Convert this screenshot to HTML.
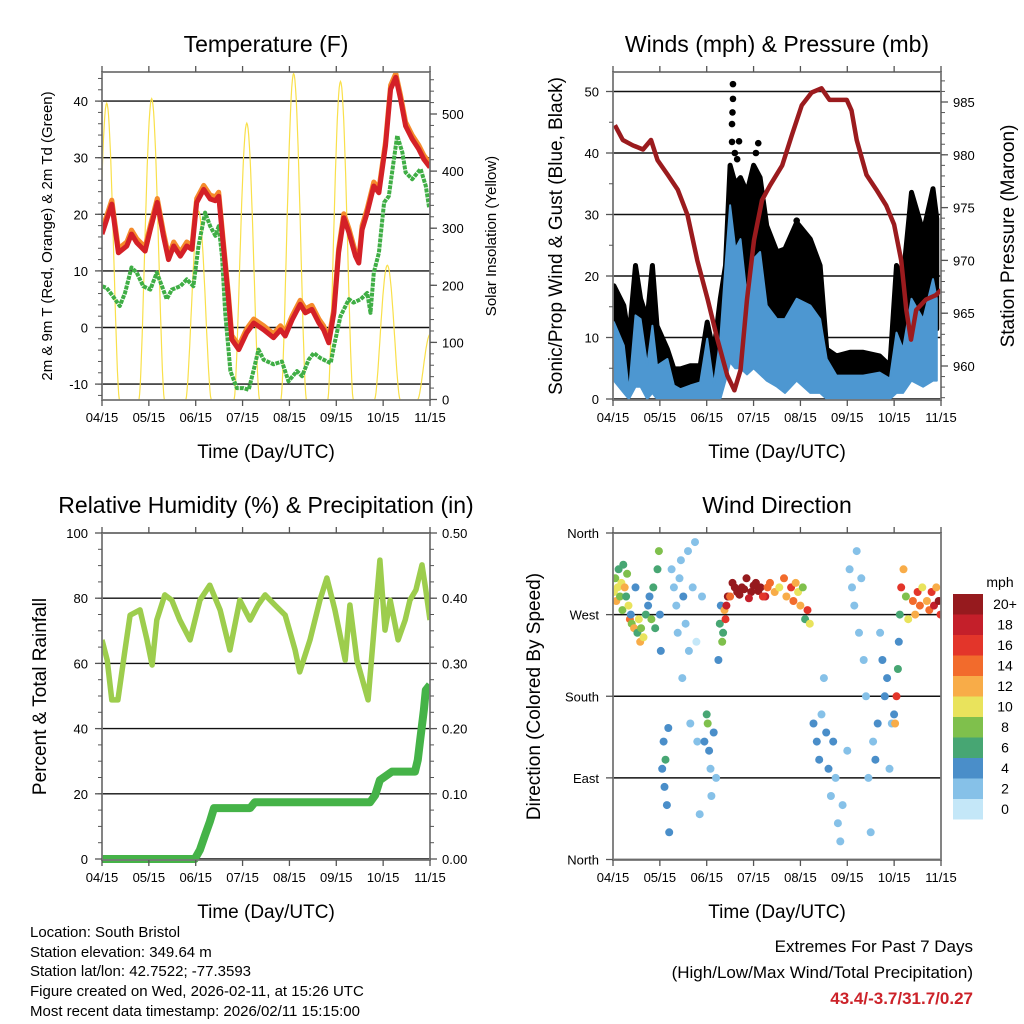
<!DOCTYPE html>
<html><head><meta charset="utf-8">
<style>
html,body{margin:0;padding:0;background:#fff;}
svg{display:block;font-family:"Liberation Sans",Arial,sans-serif;}
</style></head>
<body>
<svg id="chart" width="1024" height="1024" viewBox="0 0 1024 1024" xmlns="http://www.w3.org/2000/svg">
<rect x="0" y="0" width="1024" height="1024" fill="#fff"/>
<g id="p1"></g>
<g id="p2"></g>
<g id="p3"></g>
<g id="p4"></g>
<g id="cbar"></g>
<g font-size="15" fill="#000">
<text x="30" y="937">Location: South Bristol</text>
<text x="30" y="957">Station elevation: 349.64 m</text>
<text x="30" y="976">Station lat/lon: 42.7522; -77.3593</text>
<text x="30" y="996">Figure created on Wed, 2026-02-11, at 15:26 UTC</text>
<text x="30" y="1016">Most recent data timestamp: 2026/02/11 15:15:00</text>
</g>
<g text-anchor="end">
<text x="973" y="952" font-size="17">Extremes For Past 7 Days</text>
<text x="973" y="978" font-size="17">(High/Low/Max Wind/Total Precipitation)</text>
<text x="973" y="1004" font-size="17" font-weight="bold" fill="#cc2229">43.4/-3.7/31.7/0.27</text>
</g>
</svg>
<script>
const NS="http://www.w3.org/2000/svg";
const xLabels=["04/15","05/15","06/15","07/15","08/15","09/15","10/15","11/15"];
// Temperature (red/orange)
const tempT=[0,0.21,0.35,0.53,0.63,0.74,0.92,1.03,1.18,1.31,1.42,1.53,1.67,1.81,1.92,2.02,2.17,2.31,2.42,2.49,2.59,2.70,2.77,2.92,3.09,3.24,3.45,3.66,3.81,3.91,4.06,4.23,4.34,4.48,4.63,4.73,4.84,4.95,5.05,5.16,5.27,5.41,5.48,5.55,5.66,5.80,5.91,6.05,6.16,6.27,6.37,6.48,6.62,6.76,6.87,7.0];
const tempV=[16.5,21.8,13.2,14.4,16.5,15.0,13.5,17.3,22.1,16.2,12.0,14.4,12.6,14.4,13.8,22.1,24.4,22.7,22.4,23.2,14.4,5.0,-2.1,-3.9,-0.9,0.8,-0.4,-1.8,-0.4,-1.5,1.4,4.1,2.6,3.2,0.8,-0.4,-2.7,2.6,13.2,19.4,16.8,12.6,11.4,17.3,20.3,25.0,23.8,32.1,42.1,44.2,40.4,35.6,33.3,31.5,29.7,28.3];
// Dewpoint (green)
const dewT=[0,0.10,0.21,0.38,0.49,0.63,0.74,0.88,1.03,1.17,1.28,1.38,1.49,1.67,1.81,1.95,2.06,2.20,2.31,2.42,2.49,2.56,2.63,2.74,2.88,3.02,3.13,3.24,3.34,3.45,3.66,3.84,3.98,4.16,4.27,4.41,4.52,4.66,4.88,4.95,5.09,5.27,5.37,5.52,5.66,5.73,5.80,5.91,6.02,6.12,6.23,6.30,6.41,6.48,6.62,6.80,6.91,6.98];
const dewV=[7.3,7.0,5.8,3.8,6.1,10.6,9.7,7.3,6.7,9.7,7.3,5.0,6.7,7.3,8.5,7.3,14.4,20.3,17.9,16.2,17.9,12.6,2.6,-7.7,-10.7,-10.7,-11.0,-7.4,-3.9,-5.7,-6.5,-6.0,-9.5,-7.7,-8.6,-5.7,-4.5,-5.4,-6.3,-3.3,2.0,5.0,4.4,5.0,6.1,2.6,9.7,13.2,22.1,23.2,29.7,33.9,30.9,27.4,26.2,28.0,25.0,21.2];
// Solar insolation daily peaks
const solarCenter=[0.10,1.06,2.06,3.09,4.09,5.09,6.09,7.01];
const solarPeak=[519,527,330,484,571,557,235,115];
// Winds
const windT=[0.02,0.23,0.34,0.48,0.59,0.73,0.84,0.94,1.16,1.30,1.44,1.65,1.86,2.01,2.15,2.29,2.40,2.50,2.61,2.72,2.86,3.0,3.14,3.28,3.50,3.67,3.92,4.21,4.42,4.56,4.77,5.06,5.34,5.69,5.91,6.05,6.19,6.37,6.62,6.83,6.91];
const windHi=[12.5,8.7,1.1,13.6,13.0,5.4,11.9,5.4,6.5,2.2,1.6,2.2,2.7,9.8,2.2,9.8,21.7,31.5,24.4,26.0,16.3,22.8,23.9,15.2,13.0,13.0,16.3,15.2,13.0,6.5,3.8,3.8,3.8,4.3,3.3,10.8,8.1,16.3,13.0,19.5,16.3];
const windLo=[3,1,0,2,2,0,1,0,0,0,0,0,0,0,0,0,3,6,5,5,4,5,4,3,2,1,3,1,1,0,0,0,0,0,0,1,1,3,2,3,3];
const gustV=[18.4,15.2,9.8,21.7,16.3,13,21.7,11.9,8.1,4.9,4.9,5.4,5.4,12.5,7.6,16.3,21.7,38,35,36,33.6,38,36,28.2,23.9,24.4,28.7,26,21.7,8.1,7,7.6,7.6,7,5.4,21.7,19.5,33.6,27.1,34.2,29.3];
const gustOutT=[2.56,2.56,2.55,2.54,2.54,2.69,3.10,3.92,2.60,2.65,3.05];
const gustOutV=[51.2,48.8,46.6,44.7,41.8,41.9,41.6,29,40,39,40];
// Pressure
const presT=[0.04,0.21,0.42,0.64,0.81,0.95,1.17,1.38,1.59,1.80,2.02,2.23,2.44,2.59,2.72,2.86,3.01,3.18,3.35,3.61,3.82,4.03,4.24,4.45,4.62,4.77,4.99,5.09,5.20,5.41,5.62,5.83,6.00,6.15,6.26,6.36,6.47,6.68,6.89,7.0];
const presV=[982.8,981.4,980.9,980.5,981.4,979.5,978.1,976.7,974.3,970.0,966.3,962.5,959.1,957.7,959.6,966.3,971.9,975.7,977.1,979.0,981.9,984.7,985.9,986.3,985.2,985.2,985.2,984.2,981.4,978.1,976.7,975.2,973.4,970.0,965.3,962.5,965.3,966.3,966.7,967.2];
// RH
const rhT=[0,0.11,0.21,0.34,0.49,0.60,0.81,0.96,1.07,1.17,1.34,1.49,1.66,1.88,2.09,2.30,2.52,2.73,2.94,3.16,3.33,3.48,3.69,3.91,4.12,4.22,4.44,4.65,4.80,4.97,5.19,5.29,5.44,5.68,5.83,5.93,6.04,6.15,6.32,6.47,6.57,6.70,6.83,6.91,7.0];
const rhV=[67.2,61.0,48.8,48.8,64.1,74.8,76.4,67.2,59.5,73.3,81.0,79.4,73.3,67.2,79.4,84.0,76.4,64.1,79.4,73.3,77.9,81.0,77.9,74.8,64.1,57.4,67.2,79.4,86.2,76.4,61.0,77.9,61.0,48.8,74.8,91.7,70.2,79.4,67.2,73.3,79.4,82.5,90.2,82.5,73.3];
// Precip
const prT=[0,1.98,2.09,2.20,2.30,2.39,3.16,3.26,5.72,5.83,5.93,6.19,6.68,6.74,6.79,6.87,6.91,7.0];
const prV=[0,0,0.014,0.037,0.057,0.078,0.078,0.087,0.087,0.098,0.121,0.134,0.134,0.152,0.183,0.229,0.259,0.267];
// Wind direction
const wdT=[0.02,0.05,0.07,0.1,0.12,0.15,0.18,0.2,0.22,0.25,0.28,0.3,0.33,0.36,0.38,0.4,0.45,0.48,0.52,0.55,0.58,0.6,0.65,0.7,0.75,0.78,0.82,0.86,0.9,0.95,0.98,1.0,1.02,1.05,1.08,1.1,1.12,1.15,1.18,1.2,1.25,1.3,1.35,1.38,1.42,1.45,1.48,1.5,1.55,1.6,1.62,1.65,1.7,1.75,1.78,1.8,1.85,1.9,1.95,2.0,2.02,2.05,2.08,2.1,2.15,2.2,2.25,2.28,2.3,2.33,2.35,2.38,2.4,2.42,2.45,2.55,2.65,2.75,2.85,2.95,3.05,3.15,3.25,3.35,3.45,3.55,3.65,3.7,3.8,3.85,3.9,3.95,4.0,4.05,4.1,4.15,4.2,4.28,4.35,4.4,4.45,4.5,4.55,4.6,4.65,4.7,4.75,4.8,4.85,4.9,5.0,5.05,5.1,5.15,5.2,5.25,5.3,5.35,5.4,5.45,5.5,5.55,5.6,5.65,5.7,5.75,5.8,5.85,5.9,5.95,6.0,6.02,6.05,6.08,6.1,6.12,6.15,6.2,6.25,6.3,6.4,6.45,6.5,6.55,6.6,6.7,6.75,6.8,6.85,6.9,6.95,6.99,2.5,2.6,2.7,2.8,2.9,3.0,3.1,3.2,3.3];
const wdDir=[295,310,285,300,320,290,305,275,325,300,290,315,280,265,270,260,255,300,250,265,240,255,245,270,280,290,265,300,255,320,340,270,230,100,130,80,110,60,145,30,320,300,280,250,310,330,200,290,260,340,230,150,300,350,240,130,50,290,130,160,150,120,100,70,140,90,220,260,280,240,250,275,265,280,290,305,295,300,310,295,305,300,290,305,295,300,310,290,300,285,305,295,280,300,265,275,260,150,130,110,160,200,140,100,70,130,90,40,20,60,120,320,300,280,340,250,310,220,180,90,30,130,110,150,250,220,180,200,100,150,160,150,180,210,240,270,300,320,290,265,285,270,295,280,300,285,275,295,280,300,285,270,290,300,292,298,288,302,296,290,300];
const wdSpd=[10,8,12,10,6,8,10,8,6,12,6,8,10,14,4,8,12,4,6,10,12,8,10,6,4,4,8,6,6,6,8,4,4,4,4,4,6,4,4,4,2,2,2,2,2,2,2,4,2,2,2,2,2,2,0,2,2,2,4,6,8,4,2,2,4,2,4,6,4,8,6,12,16,18,20,20,20,20,20,20,20,20,18,14,12,10,14,12,16,14,12,10,12,8,6,16,10,4,4,4,2,2,4,4,2,4,2,2,2,2,2,2,2,2,2,2,2,2,2,2,2,2,4,4,2,4,4,4,2,2,4,12,16,6,4,6,16,12,8,10,14,12,16,14,10,12,14,16,18,12,20,16,14,20,20,20,18,20,20,16,14,12];
const cbLabels=["20+","18","16","14","12","10","8","6","4","2","0"];
const cbColors=["#961a1e","#c41f2a","#e3352a","#f26b2c","#f8ac48","#e9e35c","#7fc04c","#47a673","#4a8ec9","#86c1e8","#c4e7f8"];

function el(tag,attrs,parent){const e=document.createElementNS(NS,tag);for(const k in attrs)e.setAttribute(k,attrs[k]);parent.appendChild(e);return e;}
function txt(parent,x,y,s,size,anchor,extra){const t=el('text',Object.assign({x:x,y:y,'font-size':size,'text-anchor':anchor||'start',fill:'#000'},extra||{}),parent);t.textContent=s;return t;}

function makePanel(g,P){
  P.leftTicks.forEach(v=>{const y=P.yL(v);
    const l=el('line',{x1:P.x0,x2:P.x1,y1:y,y2:y,stroke:'#111','stroke-width':1.4},g);
    
    
  });
}
function frame(g,P){
  el('rect',{x:P.x0,y:P.y0,width:P.x1-P.x0,height:P.y1-P.y0,fill:'none',stroke:'#777','stroke-width':1.8},g);
  const ax=el('g',{},g);
  
  
  for(let i=0;i<8;i++){const x=P.xs(i);
    el('line',{x1:x,x2:x,y1:P.y1,y2:P.y1+6,stroke:'#555','stroke-width':1.3},ax);
    el('line',{x1:x,x2:x,y1:P.y0,y2:P.y0-6,stroke:'#555','stroke-width':1.3},ax);
    const t=txt(ax,x,P.y1+22,xLabels[i],13,'middle');
    
    
  }
  const xt=txt(g,(P.x0+P.x1)/2,P.y1+58,'Time (Day/UTC)',19,'middle');
  
  
  const ay=el('g',{},g);
  
  
  P.leftTicks.forEach((v,i)=>{const y=P.yL(v);
    el('line',{x1:P.x0-7,x2:P.x0,y1:y,y2:y,stroke:'#555','stroke-width':1.3},ay);
    const t=txt(ay,P.x0-14,y+5,P.leftLabels?P.leftLabels[i]:String(v),13,'end');
    
    
  });
  if(P.leftMinor)P.leftMinor.forEach(v=>{const y=P.yL(v);if(y>=P.y0&&y<=P.y1)el('line',{x1:P.x0-4,x2:P.x0,y1:y,y2:y,stroke:'#555','stroke-width':1},ay);});
  if(P.rightTicks){
    const ar=el('g',{},g);
    
    
    P.rightTicks.forEach((v,i)=>{const y=P.yR(v);
      el('line',{x1:P.x1,x2:P.x1+7,y1:y,y2:y,stroke:'#555','stroke-width':1.3},ar);
      const t=txt(ar,P.x1+12,y+5,P.rightLabels[i],13,'start');
      
      
    });
    if(P.rightMinor)P.rightMinor.forEach(v=>{const y=P.yR(v);if(y>=P.y0&&y<=P.y1)el('line',{x1:P.x1,x2:P.x1+4,y1:y,y2:y,stroke:'#555','stroke-width':1},ar);});
  }
  const tt=txt(g,(P.x0+P.x1)/2,P.y0-20,P.title,23,'middle');
  
  
  const ly=(P.y0+P.y1)/2;
  const lt=txt(g,0,0,P.leftTitle,P.ltSize,'middle',{transform:`translate(${P.ltX},${ly}) rotate(-90)`});
  
  
  if(P.rightTitle){const rt=txt(g,0,0,P.rightTitle,P.rtSize,'middle',{transform:`translate(${P.rtX},${ly}) rotate(-90)`});
    
    }
}
function linePath(ts,vs,xs,ys){return ts.map((t,i)=>(i?'L':'M')+xs(t).toFixed(1)+','+ys(vs[i]).toFixed(1)).join('');}
function range(a,b,s){const r=[];for(let v=a;v<=b+1e-9;v+=s)r.push(+v.toFixed(4));return r;}

// ---------- Panel 1 ----------
(function(){
  const g=document.getElementById('p1');
  const P={x0:102,x1:430,y0:72,y1:400,title:'Temperature (F)'};
  P.xs=t=>P.x0+t*(P.x1-P.x0)/7;
  P.yL=v=>327.5-v*5.66; P.yR=v=>399.5-v*0.571;
  P.leftTicks=[-10,0,10,20,30,40]; P.leftMinor=range(-12,44,2);
  P.rightTicks=[0,100,200,300,400,500]; P.rightLabels=P.rightTicks.map(String); P.rightMinor=range(0,560,20);
  P.leftTitle='2m & 9m T (Red, Orange) & 2m Td (Green)';P.ltX=52;P.ltSize=15;
  P.rightTitle='Solar Insolation (Yellow)';P.rtX=496;P.rtSize=15;
  makePanel(g,P);
  const cp=el('clipPath',{id:'c1'},g);el('rect',{x:P.x0,y:P.y0,width:P.x1-P.x0,height:P.y1-P.y0},cp);
  const d=el('g',{'clip-path':'url(#c1)'},g);
  solarCenter.forEach((c,i)=>{let s='';const hw=0.27;
    for(let k=0;k<=40;k++){const t=c-hw+2*hw*k/40;const v=solarPeak[i]*Math.pow(Math.sin(Math.PI*k/40),1.6);s+=(k?'L':'M')+P.xs(t).toFixed(1)+','+P.yR(v).toFixed(1);}
    const p=el('path',{d:s,fill:'none',stroke:'#f9e04a','stroke-width':1.2},d);
    
    
  });
  const dp=el('path',{d:linePath(dewT,dewV,P.xs,P.yL),fill:'none',stroke:'#3fae45','stroke-width':4,'stroke-dasharray':'4 1','stroke-linejoin':'round'},d);
  
  
  const op=el('path',{d:linePath(tempT,tempV.map(v=>v+0.7),P.xs,P.yL),fill:'none',stroke:'#f58b2c','stroke-width':5,'stroke-linejoin':'round'},d);
  
  
  const rp=el('path',{d:linePath(tempT,tempV,P.xs,P.yL),fill:'none',stroke:'#d42027','stroke-width':5,'stroke-linejoin':'round'},d);
  
  
  frame(g,P);
})();

// ---------- Panel 2 ----------
(function(){
  const g=document.getElementById('p2');
  const P={x0:613,x1:941,y0:72,y1:400,title:'Winds (mph) & Pressure (mb)'};
  P.xs=t=>P.x0+t*(P.x1-P.x0)/7;
  P.yL=v=>399-v*6.15; P.yR=v=>366-(v-960)*10.56;
  P.leftTicks=[0,10,20,30,40,50]; P.leftMinor=range(0,52,5);
  P.rightTicks=[960,965,970,975,980,985]; P.rightLabels=P.rightTicks.map(String); P.rightMinor=range(957,987,1);
  P.leftTitle='Sonic/Prop Wind & Gust (Blue, Black)';P.ltX=562;P.ltSize=19;
  P.rightTitle='Station Pressure (Maroon)';P.rtX=1014;P.rtSize=19;
  makePanel(g,P);
  const cp=el('clipPath',{id:'c2'},g);el('rect',{x:P.x0,y:P.y0,width:P.x1-P.x0,height:P.y1-P.y0},cp);
  const d=el('g',{'clip-path':'url(#c2)'},g);
  let top=windT.map((t,i)=>P.xs(t).toFixed(1)+','+P.yL(gustV[i]).toFixed(1));
  let bot=windT.map((t,i)=>P.xs(t).toFixed(1)+','+P.yL(windHi[i]*0.7).toFixed(1)).reverse();
  const gp=el('polygon',{points:top.concat(bot).join(' '),fill:'#000',stroke:'#000','stroke-width':5,'stroke-linejoin':'round'},d);
  
  
  gustOutT.forEach((t,i)=>{const c=el('circle',{cx:P.xs(t),cy:P.yL(gustOutV[i]),r:3.3,fill:'#000'},d);
    
    });
  top=windT.map((t,i)=>P.xs(t).toFixed(1)+','+P.yL(windHi[i]).toFixed(1));
  bot=windT.map((t,i)=>P.xs(t).toFixed(1)+','+P.yL(windLo[i]).toFixed(1)).reverse();
  const bp=el('polygon',{points:top.concat(bot).join(' '),fill:'#4d97d1',stroke:'#4d97d1','stroke-width':2,'stroke-linejoin':'round'},d);
  
  
  const pp=el('path',{d:linePath(presT,presV,P.xs,P.yR),fill:'none',stroke:'#9b1b1e','stroke-width':4.5,'stroke-linejoin':'round'},d);
  
  
  frame(g,P);
})();

// ---------- Panel 3 ----------
(function(){
  const g=document.getElementById('p3');
  const P={x0:102,x1:430,y0:533,y1:860,title:'Relative Humidity (%) & Precipitation (in)'};
  P.xs=t=>P.x0+t*(P.x1-P.x0)/7;
  P.yL=v=>859-v*3.26; P.yR=v=>859-v*652;
  P.leftTicks=[0,20,40,60,80,100]; P.leftMinor=range(0,100,5);
  P.rightTicks=[0,0.1,0.2,0.3,0.4,0.5]; P.rightLabels=['0.00','0.10','0.20','0.30','0.40','0.50']; P.rightMinor=range(0,0.5,0.025);
  P.leftTitle='Percent & Total Rainfall';P.ltX=46;P.ltSize=19;
  makePanel(g,P);
  const cp=el('clipPath',{id:'c3'},g);el('rect',{x:P.x0,y:P.y0-4,width:P.x1-P.x0,height:P.y1-P.y0+8},cp);
  const d=el('g',{'clip-path':'url(#c3)'},g);
  const rp=el('path',{d:linePath(rhT,rhV,P.xs,P.yL),fill:'none',stroke:'#9dcd4d','stroke-width':5.5,'stroke-linejoin':'round'},d);
  
  
  const pp=el('path',{d:linePath(prT,prV,P.xs,P.yR),fill:'none',stroke:'#45b348','stroke-width':8,'stroke-linejoin':'round'},d);
  
  
  frame(g,P);
})();

// ---------- Panel 4 ----------
(function(){
  const g=document.getElementById('p4');
  const P={x0:613,x1:941,y0:533,y1:860,title:'Wind Direction'};
  P.xs=t=>P.x0+t*(P.x1-P.x0)/7;
  P.yL=v=>859.5-v*(326.5/360);
  P.leftTicks=[0,90,180,270,360]; P.leftLabels=['North','East','South','West','North'];
  P.leftTitle='Direction (Colored By Speed)';P.ltX=540;P.ltSize=19;
  makePanel(g,P);
  const cp=el('clipPath',{id:'c4'},g);el('rect',{x:P.x0,y:P.y0,width:P.x1-P.x0,height:P.y1-P.y0},cp);
  const d=el('g',{'clip-path':'url(#c4)'},g);
  function col(s){const idx=Math.min(10,Math.floor(s/2));return cbColors[10-idx];}
  wdT.forEach((t,i)=>{
    const c=el('circle',{cx:P.xs(t).toFixed(1),cy:P.yL(wdDir[i]).toFixed(1),r:4,fill:col(wdSpd[i])},d);
    
    
  });
  frame(g,P);
  const cb=document.getElementById('cbar');
  const t0=txt(cb,1000,587,'mph',14,'middle');
  
  
  cbLabels.forEach((lab,i)=>{const y=594+i*20.5;
    const r=el('rect',{x:953,y:y,width:30,height:20.5,fill:cbColors[i]},cb);
    
    
    const t=txt(cb,1005,y+15,lab,14,'middle');
    
    
  });
})();
</script>
</body></html>
